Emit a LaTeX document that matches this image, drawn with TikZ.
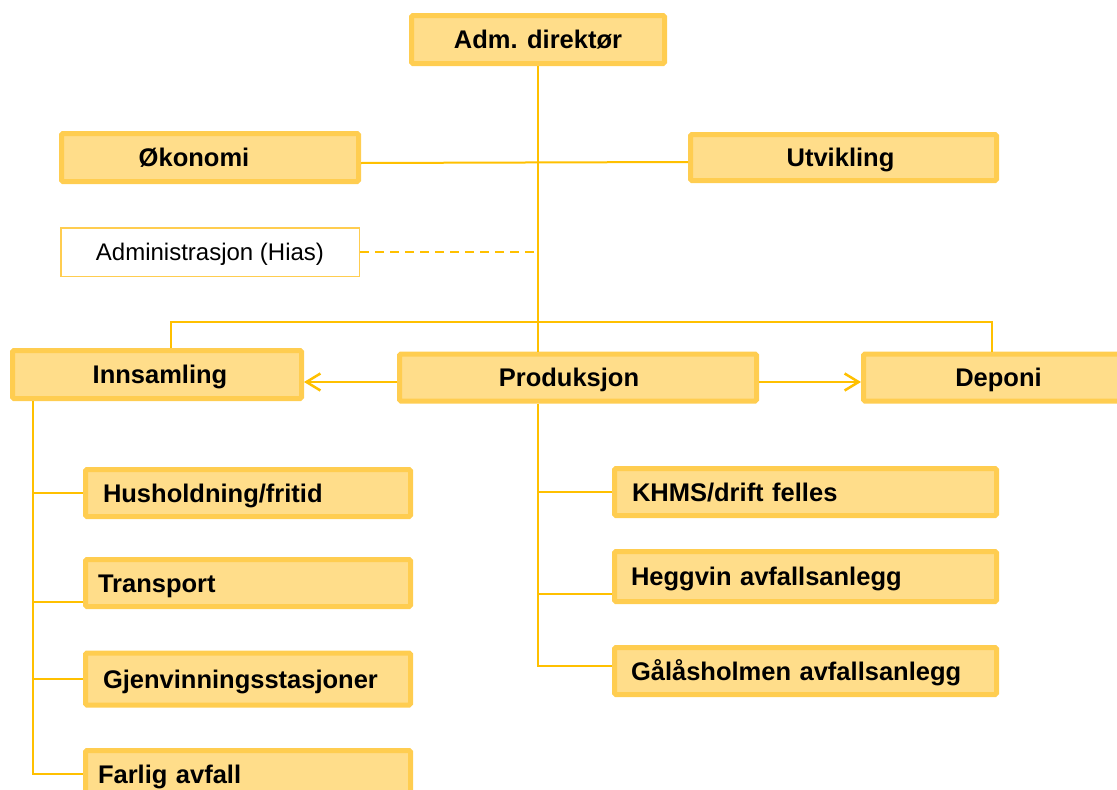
\documentclass[tikz,border=0pt]{standalone}
\usepackage{fontspec}
\setmainfont{Liberation Sans}
\usetikzlibrary{arrows.meta}
\definecolor{bfill}{RGB}{255,221,138}
\definecolor{bbord}{RGB}{255,205,80}
\definecolor{lcol}{RGB}{255,192,0}
\tikzset{
  box/.style={draw=bbord, fill=bfill, line width=5pt, rounded corners=1.5pt, inner sep=0pt,
    text height=18.3pt, text depth=0pt,
    font=\bfseries\fontsize{25.5}{30}\selectfont},
  lbox/.style 2 args={box, text width=#1, align=left, inner xsep=#2},
  wbox/.style={draw=bbord, fill=white, line width=1.5pt, inner sep=0pt,
    text height=17.2pt, text depth=0pt,
    font=\fontsize{24}{28}\selectfont},
  conn/.style={draw=lcol, line width=2pt},
  arr/.style={conn, -{Straight Barb[length=14pt,width=17pt,line width=2.5pt]}},
}
\begin{document}
\begin{tikzpicture}[x=1pt,y=-1pt]
\useasboundingbox (0,0) rectangle (1117,790);
% top level
\node[box, minimum width=253pt, minimum height=48pt] (adm) at (538,39.5) {Adm. direktør};
\node[box, minimum width=297pt, minimum height=48pt] (oko) at (210,157.5) {\hspace*{-32pt}Økonomi};
\node[box, minimum width=306pt, minimum height=46pt] (utv) at (843.5,157.5) {\hspace*{-6pt}Utvikling};
\node[wbox, minimum width=298.5pt, minimum height=48.5pt] (adms) at (210,252) {Administrasjon (Hias)};
% second level
\node[box, minimum width=289pt, minimum height=48pt] (inn) at (157,374.5) {\hspace*{6pt}Innsamling};
\node[box, minimum width=357pt, minimum height=47pt] (prod) at (578,377.5) {\hspace*{-18pt}Produksjon};
\node[box, minimum width=270pt, minimum height=47pt] (dep) at (998.5,377.5) {Deponi};
% Innsamling children
\node[lbox={290pt}{17.5pt}, minimum height=47pt] (hus) at (248,493) {Husholdning/fritid};
\node[lbox={300pt}{12.5pt}, minimum height=47pt] (tra) at (248,583) {Transport};
\node[lbox={290pt}{17.5pt}, minimum height=52pt] (gje) at (248,679) {Gjenvinningsstasjoner};
\node[lbox={300pt}{12.5pt}, minimum height=47pt] (far) at (248,774) {Farlig avfall};
% Produksjon children
\node[lbox={347pt}{17.5pt}, minimum height=47pt] (khm) at (805.5,492) {KHMS/drift felles};
\node[lbox={349pt}{16.5pt}, minimum height=50pt] (heg) at (805.5,576.5) {Heggvin avfallsanlegg};
\node[lbox={349pt}{16.5pt}, minimum height=47pt] (gal) at (805.5,671) {Gålåsholmen avfallsanlegg};
% connectors
\coordinate (bar) at (538,322);
\draw[conn] (adm.south) -- (adm.south |- prod.north);
\draw[conn] ([yshift=-5.5pt]oko.east) -- ([yshift=-4.5pt]utv.west);
\draw[conn, dashed, dash pattern=on 9pt off 6pt] (adms.east) -- (adm.south |- adms.east);
\draw[conn] ([xshift=14pt]inn.north) |- (bar) -| ([xshift=-6.5pt]dep.north);
\draw[arr] ([yshift=-4.5pt]prod.west) -- ([yshift=-4.5pt]prod.west -| inn.east);
\draw[arr] ([yshift=-4.5pt]prod.east) -- ([yshift=-4.5pt]prod.east -| dep.west);
% Innsamling branches
\coordinate (iv) at ([xshift=23pt]inn.south west);
\draw[conn] (iv) |- (far.west);
\draw[conn] (iv |- hus.west) -- (hus.west);
\draw[conn] (iv |- tra.west) ++(0,19) -- ([yshift=-19pt]tra.west);
\draw[conn] (iv |- gje.west) -- (gje.west);
% Produksjon branches
\coordinate (pv) at (adm.south |- prod.south);
\draw[conn] (pv) |- ([yshift=5pt]gal.west);
\draw[conn] (pv |- khm.west) -- (khm.west);
\draw[conn] (pv |- heg.west) ++(0,17.5) -- ([yshift=-17.5pt]heg.west);
\end{tikzpicture}
\end{document}
